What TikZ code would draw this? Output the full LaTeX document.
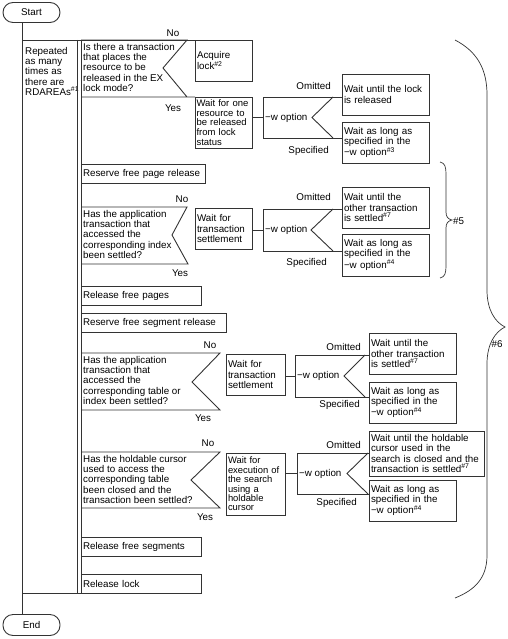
\documentclass[tikz,border=0pt]{standalone}
\usepackage{fontspec}
\setmainfont{Liberation Sans}
\colorlet{lc}{black!80}

\begin{document}
\begin{tikzpicture}[x=1pt, y=-1pt,
    pen/.style={draw=lc, line width=0.9pt},
    txt/.style={font=\fontsize{9.8}{10.3}\selectfont, inner sep=2pt, align=left},
    tighttxt/.style={font=\fontsize{9.5}{9.7}\selectfont, inner xsep=1.5pt, inner ysep=1pt},
    smalltxt/.style={font=\fontsize{9.4}{9.4}\selectfont, inner ysep=1pt},
    box/.style 2 args={txt, pen, anchor=north west, outer sep=0pt, text width=#1, minimum height=#2},
    term/.style={txt, pen, rounded corners=10pt, minimum width=57pt, minimum height=20pt, align=center, outer sep=0pt}]
\useasboundingbox (0,0) rectangle (507,639);

    \node [term] (start) at (31.5,12.5) {Start};                 % terminals
    \node [term, minimum height=21pt] (stop) at (31.5,625) {End};
    \coordinate (looptl) at (22,40);
    \coordinate (loopbl) at (22,593);
    \node [txt, anchor=north west] (reptext) at (23,45) {Repeated\\as many\\times as\\there are\\RDAREAs\textsuperscript{\#1}};

    % first decision: EX lock
    \node [box={53pt}{41pt}] (acquire) at (195,40) {Acquire\\lock\textsuperscript{\#2}};
    \node [box={54pt}{51pt}, tighttxt] (waitone) at (195,97) {Wait for one\\resource to\\be released\\from lock\\status};
    \node [txt, anchor=north west] (askex) at (81,41) {Is there a transaction\\that places the\\resource to be\\released in the EX\\lock mode?};
    \draw [pen] (81,40) -- (187,40) -- (163,68) -- (187,97) -- (81,97) -- (waitone.north west);
    \node [txt] (noA) at (173,33) {No};
    \node [txt] (yesA) at (173,108) {Yes};
    \node [box={83pt}{41pt}] (omitA) at (342,74) {Wait until the lock\\is released};
    \node [box={83pt}{41pt}] (specA) at (342,122) {Wait as long as\\specified in the\\−w option\textsuperscript{\#3}};
    \node [txt, anchor=west] (optA) at (263,117.5) {−w option};
    \draw [pen] (342,97) -- (263,97) -- (263,138) -- (342,138);    % option frame
    \draw [pen] (333,97) -- (312,117.5) -- (333,138);               % option notch
    \draw [pen] (optA.west) -- (optA.west -| waitone.east);
    \node [txt, anchor=east] (omtA) at (333,86) {Omitted};
    \node [txt, anchor=east] (spcA) at (331,151) {Specified};

    % free page release
    \node [box={120pt}{19pt}] (resvpage) at (81,164) {Reserve free page release};
    \node [box={53pt}{41pt}] (waitidx) at (195,208) {Wait for\\transaction\\settlement};
    \node [txt, anchor=north west] (askidx) at (81,208) {Has the application\\transaction that\\accessed the\\corresponding index\\been settled?};
    \draw [pen] (81,207) -- (187,207) -- (172,235) -- (188,264) -- (81,264);
    \node [txt] (noB) at (182,199) {No};
    \node [txt] (yesB) at (180,273) {Yes};
    \node [box={83pt}{41pt}] (omitB) at (342,187) {Wait until the\\other transaction\\is settled\textsuperscript{\#7}};
    \node [box={83pt}{42pt}] (specB) at (342,234) {Wait as long as\\specified in the\\−w option\textsuperscript{\#4}};
    \node [txt, anchor=west] (optB) at (263,230) {−w option};
    \draw [pen] (342,209) -- (263,209) -- (263,251) -- (342,251);
    \draw [pen] (333,209) -- (311,230) -- (333,251);
    \draw [pen] (optB.west) -- (optB.west -| waitidx.east);
    \node [txt, anchor=east] (omtB) at (333,197) {Omitted};
    \node [txt, anchor=east] (spcB) at (329,263) {Specified};
    \node [box={116pt}{19pt}] (relpage) at (81,286) {Release free pages};

    % free segment release
    \node [box={141pt}{19pt}] (resvseg) at (81,313) {Reserve free segment release};
    \node [box={55pt}{41pt}] (waittbl) at (226,354) {Wait for\\transaction\\settlement};
    \node [txt, anchor=north west] (asktbl) at (81,354) {Has the application\\transaction that\\accessed the\\corresponding table or\\index been settled?};
    \draw [pen] (81,353) -- (220,353) -- (192,382) -- (220,410) -- (81,410);
    \node [txt] (noC) at (210,345) {No};
    \node [txt] (yesC) at (203,418) {Yes};
    \node [box={83pt}{41pt}] (omitC) at (369,333) {Wait until the\\other transaction\\is settled\textsuperscript{\#7}};
    \node [box={83pt}{41pt}] (specC) at (369,382) {Wait as long as\\specified in the\\−w option\textsuperscript{\#4}};
    \node [txt, anchor=west] (optC) at (295,376) {−w option};
    \draw [pen] (369,355) -- (295,355) -- (295,397) -- (369,397);
    \draw [pen] (365,355) -- (344,376) -- (365,397);
    \draw [pen] (optC.west) -- (optC.west -| waittbl.east);
    \node [txt, anchor=east] (omtC) at (363,347) {Omitted};
    \node [txt, anchor=east] (spcC) at (362,405) {Specified};

    % holdable cursor
    \node [box={55pt}{62pt}, smalltxt] (waitcur) at (226,453) {Wait for\\execution of\\the search\\using a\\holdable\\cursor};
    \node [txt, anchor=north west] (askcur) at (81,453) {Has the holdable cursor\\used to access the\\corresponding table\\been closed and the\\transaction been settled?};
    \draw [pen] (81,452) -- (220,452) -- (191,480) -- (220,508) -- (81,508);
    \node [txt] (noD) at (208,443) {No};
    \node [txt] (yesD) at (205,517) {Yes};
    \node [box={111pt}{45pt}] (omitD) at (369,431) {Wait until the holdable\\cursor used in the\\search is closed and the\\transaction is settled\textsuperscript{\#7}};
    \node [box={83pt}{41pt}] (specD) at (369,480) {Wait as long as\\specified in the\\−w option\textsuperscript{\#4}};
    \node [txt, anchor=west] (optD) at (297,473.5) {−w option};
    \draw [pen] (369,453) -- (297,453) -- (297,494) -- (369,494);
    \draw [pen] (368,453) -- (347,473.5) -- (368,494);
    \draw [pen] (optD.west) -- (optD.west -| waitcur.east);
    \node [txt, anchor=east] (omtD) at (363,445) {Omitted};
    \node [txt, anchor=east] (spcD) at (359,503) {Specified};

    \node [box={116pt}{19pt}] (relseg) at (81,537) {Release free segments};
    \node [box={116pt}{19pt}] (rellock) at (81,574) {Release lock};

    % loop frame
    \draw [pen] (start.south -| looptl) -- (looptl) -- (acquire.north west);
    \draw [pen] (looptl) -- (loopbl) -- (rellock.south west);
    \draw [pen] (loopbl) -- (loopbl |- stop.north);
    \draw [pen] (77,40) -- (77,593);
    \draw [pen] (81,40) -- (81,593);

    % braces
    \draw [lc, line width=0.7pt] (440,162) .. controls (445,163) and (446,167) .. (446,174) -- (446,212) .. controls (446,217) and (448,219) .. (452,220) .. controls (448,221) and (446,223) .. (446,228) -- (446,266) .. controls (446,273) and (445,277) .. (440,278);
    \node [txt, anchor=west] (mark5) at (451,221) {\#5};
    \draw [lc, line width=0.7pt] (455,40) .. controls (478,52) and (487,70) .. (487,95) -- (487,290) .. controls (487,310) and (495,322) .. (505,327) .. controls (495,332) and (487,344) .. (487,364) -- (487,555) .. controls (487,578) and (475,590) .. (455,598);
    \node [txt] (mark6) at (497,344) {\#6};
\end{tikzpicture}
\end{document}
